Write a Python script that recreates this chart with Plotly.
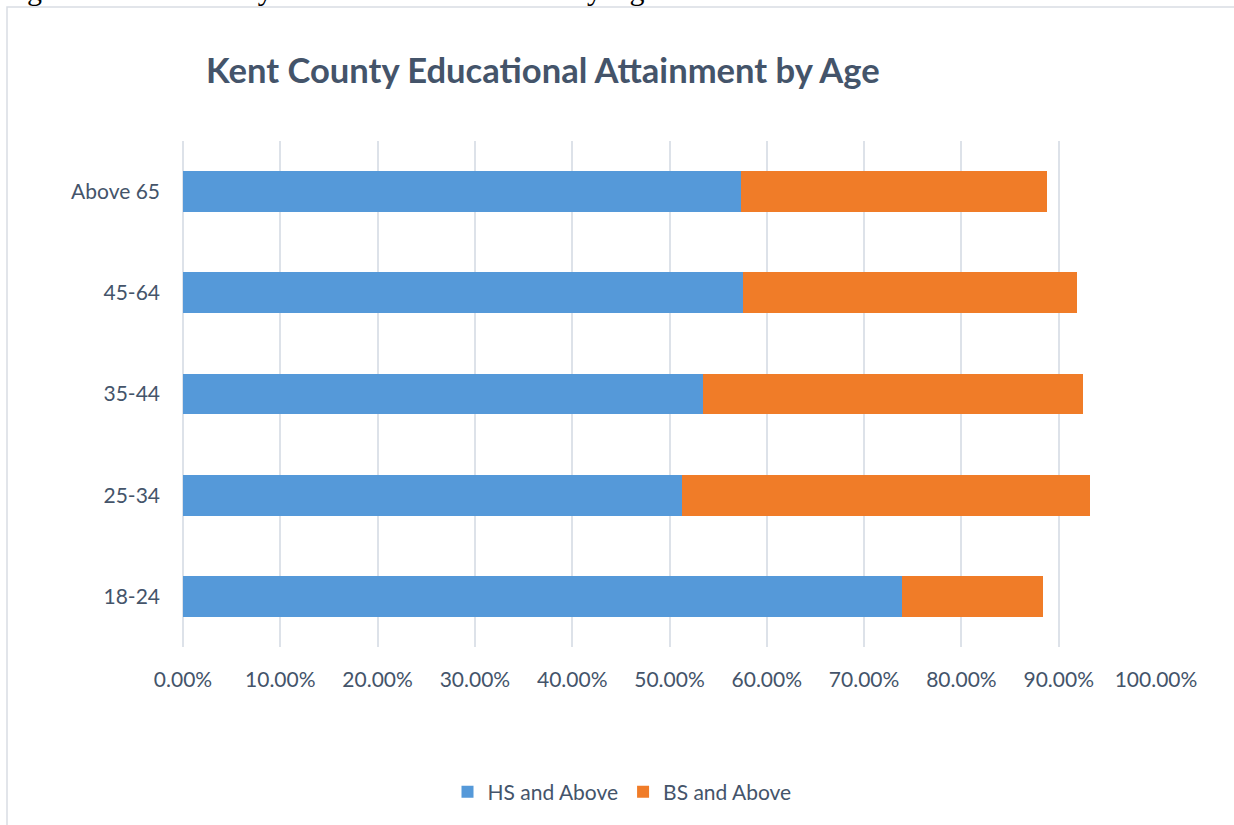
import plotly.graph_objects as go

categories = ["18-24", "25-34", "35-44", "45-64", "Above 65"]
hs_and_above = [0.739, 0.5125, 0.534, 0.576, 0.5735]
bs_and_above = [0.145, 0.4195, 0.391, 0.343, 0.3145]
x_ticks = [0, 0.1, 0.2, 0.3, 0.4, 0.5, 0.6, 0.7, 0.8, 0.9, 1.0]

W, H = 1234, 825
L, R, T, B = 183, 78, 141, 178
PW, PH = W - L - R, H - T - B

def px_x(p):
    return (p - L) / PW

def px_y(p):
    return (H - B - p) / PH

FONT = "Lato, 'Open Sans', sans-serif"
TXT = "#44546A"

fig = go.Figure()
fig.add_trace(go.Bar(
    y=categories, x=hs_and_above, orientation="h", name="HS and Above",
    marker=dict(color="#5599D9", line=dict(width=0)),
))
fig.add_trace(go.Bar(
    y=categories, x=bs_and_above, orientation="h", name="BS and Above",
    marker=dict(color="#F07C28", line=dict(width=0)),
))

fig.update_layout(
    width=W, height=H,
    margin=dict(l=L, r=R, t=T, b=B, pad=0),
    barmode="stack", bargap=0.595,
    paper_bgcolor="white", plot_bgcolor="white",
    font=dict(family=FONT, color=TXT, size=21),
    showlegend=True,
    legend=dict(
        orientation="h", x=px_x(622), xanchor="center",
        y=px_y(792), yanchor="middle",
        font=dict(family=FONT, size=21, color=TXT),
        itemwidth=30, traceorder="normal",
    ),
    xaxis=dict(
        range=[0, 1], tickvals=x_ticks, tickformat=".2%",
        showgrid=True, gridcolor="#DDE2E9", gridwidth=1.5,
        zeroline=True, zerolinecolor="#DDE2E9", zerolinewidth=1.5,
        showline=False, ticks="", ticklabelstandoff=18,
        tickfont=dict(family=FONT, size=21, color=TXT),
        fixedrange=True,
    ),
    yaxis=dict(
        showgrid=False, zeroline=False, showline=False, ticks="",
        ticklabelstandoff=22,
        tickfont=dict(family=FONT, size=21, color=TXT),
        fixedrange=True,
    ),
    annotations=[
        dict(
            text="<b>Kent County Educational Attainment by Age</b>",
            xref="paper", yref="paper",
            x=px_x(204), xanchor="left", y=px_y(70), yanchor="middle",
            showarrow=False, font=dict(family=FONT, size=34.6, color=TXT),
        ),
        dict(
            text="Figure 3: Kent County Educational Attainment by Age",
            xref="paper", yref="paper",
            x=px_x(0), xanchor="left", y=px_y(8), yanchor="bottom",
            showarrow=False,
            font=dict(family="'Liberation Serif', 'Times New Roman', serif", size=30, color="black"),
        ),
    ],
    shapes=[
        dict(
            type="rect", xref="paper", yref="paper",
            x0=px_x(7), x1=px_x(W + 10), y0=px_y(7), y1=px_y(H + 10),
            line=dict(color="#D9DDE3", width=1.5), fillcolor="rgba(0,0,0,0)",
            layer="below",
        )
    ],
)

fig.write_html(
    "out.html",
    config={"displayModeBar": False},
    post_script="document.body.style.margin='0';document.body.style.overflow='hidden';",
)
